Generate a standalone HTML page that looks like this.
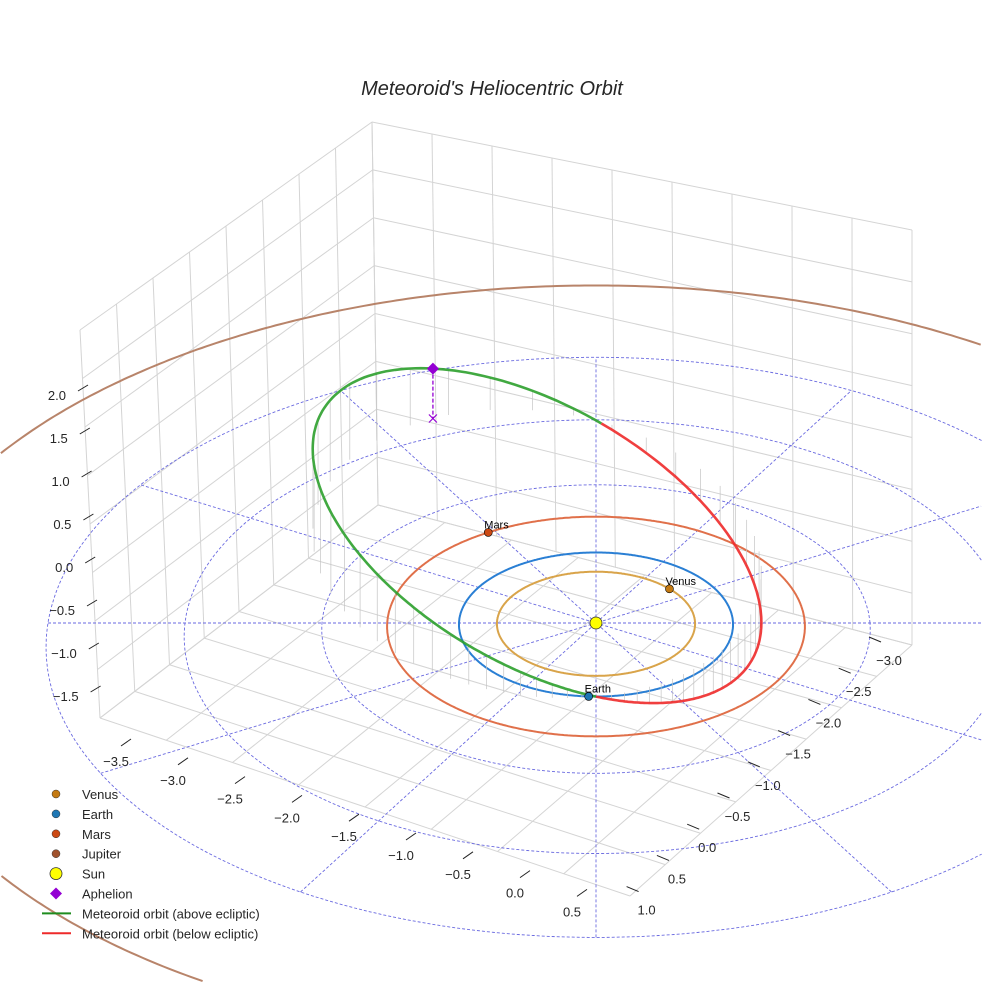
<!DOCTYPE html>
<html><head><meta charset="utf-8"><title>Meteoroid's Heliocentric Orbit</title>
<style>html,body{margin:0;padding:0;background:#fff;overflow:hidden;width:984px;height:984px}svg{display:block;overflow:hidden;font-family:"Liberation Sans",sans-serif}</style>
</head><body>
<svg id="chart" width="984" height="984" viewBox="0 0 984 984" xmlns="http://www.w3.org/2000/svg" overflow="hidden">
<rect width="984" height="984" fill="#fff"/>
<text x="492" y="95" text-anchor="middle" font-size="20" font-style="italic" fill="#262626">Meteoroid's Heliocentric Orbit</text>
<g id="grid"></g>
<g id="ecl"></g>
<g id="orbits"></g>
<g id="met"></g>
<g id="marks"></g>
<g id="ticks"></g>
<g id="legend"></g>
</svg>
<script>
const planetNames=["Venus","Earth","Mars","Jupiter"];
const planetRadii=[0.723,1.0,1.524,5.2];
const planetAngles=[41.5,-93,122,-150];
const planetColors=["#c47a12","#1f77b4","#cc4a14","#a0522d"];
const orbitColors=["#d9a44a","#2a7fd4","#e0704a","#b8846a"];
const ringRadii=[1,2,3,4];
const radialAngles=[0,30,60,90,120,150];
const metA=[2.15], metE=[0.55], metOmega=[-25], metInc=[26];
const zTicks=["2.0","1.5","1.0","0.5","0.0","\u22120.5","\u22121.0","\u22121.5"];
const xTicks=["\u22123.5","\u22123.0","\u22122.5","\u22122.0","\u22121.5","\u22121.0","\u22120.5","0.0","0.5"];
const yTicks=["\u22123.0","\u22122.5","\u22122.0","\u22121.5","\u22121.0","\u22120.5","0.0","0.5","1.0"];
const legendLabels=["Venus","Earth","Mars","Jupiter","Sun","Aphelion","Meteoroid orbit (above ecliptic)","Meteoroid orbit (below ecliptic)"];

const NS="http://www.w3.org/2000/svg";
const CX=596,CY=623,SX=137,SY=72,SZ=86,K=0.021;
function P(px,py,z){const f=1/(1+K*py);return [CX+SX*px*f, CY-(SY*py+SZ*z)*f];}
function polar(r,deg){const t=deg*Math.PI/180;return [r*Math.cos(t),r*Math.sin(t)];}
function mk(tag,attrs,parent){const e=document.createElementNS(NS,tag);for(const k in attrs)e.setAttribute(k,attrs[k]);parent.appendChild(e);return e;}
function pts(a){return a.map(p=>p[0].toFixed(1)+","+p[1].toFixed(1)).join(" ");}
function inside(p){return p[0]>=0&&p[0]<=983&&p[1]>=0&&p[1]<=983;}
// split a point list into runs that stay inside the frame
function splitIn(a){const out=[];let cur=[];a.forEach(p=>{if(inside(p))cur.push(p);else{if(cur.length>1)out.push(cur);cur=[];}});if(cur.length>1)out.push(cur);return out;}
const G=id=>document.getElementById(id);

// grid box
const grid=G('grid');
const TL=[80,330],TB=[372,122],TR=[912,230],FL=[100,718],FB=[378,505],FR=[912,645],FF=[630,896];
function lerp(a,b,t){return [a[0]+(b[0]-a[0])*t,a[1]+(b[1]-a[1])*t];}
function gl(a,b){const l=mk('line',{x1:a[0],y1:a[1],x2:b[0],y2:b[1],stroke:'#d4d4d4','stroke-width':1},grid);

}
for(let i=0;i<=8;i++){const t=i/8;gl(lerp(TL,TB,t),lerp(FL,FB,t));gl(lerp(TL,FL,t),lerp(TB,FB,t));}
for(let i=0;i<=9;i++){const t=i/9;gl(lerp(TB,TR,t),lerp(FB,FR,t));}
for(let i=0;i<=8;i++){const t=i/8;gl(lerp(TB,FB,t),lerp(TR,FR,t));}
for(let i=0;i<=8;i++){const t=i/8;gl(lerp(FL,FB,t),lerp(FF,FR,t));gl(lerp(FL,FF,t),lerp(FB,FR,t));}

// ecliptic rings & radials
const ecl=G('ecl');
ringRadii.forEach(r=>{const a=[];for(let i=0;i<=480;i++){const [x,y]=polar(r,i*0.75);a.push(P(x,y,0));}
splitIn(a).forEach(s=>{const e=mk('polyline',{points:pts(s),fill:'none',stroke:'#6a6ae0','stroke-width':0.9,'stroke-dasharray':'3,2'},ecl);

});});
radialAngles.forEach(d=>{const a=[];for(let i=-200;i<=200;i++){const [x,y]=polar(4*i/200,d);a.push(P(x,y,0));}
splitIn(a).forEach(s=>{const e=mk('polyline',{points:pts(s),fill:'none',stroke:'#6a6ae0','stroke-width':0.9,'stroke-dasharray':'3,2'},ecl);

});});

// planet orbits
const orb=G('orbits');
planetRadii.forEach((r,k)=>{const a=[];for(let i=0;i<=720;i++){const [x,y]=polar(r,i*0.5);a.push(P(x,y,0));}
splitIn(a).forEach(s=>{const e=mk('polyline',{points:pts(s),fill:'none',stroke:orbitColors[k],'stroke-width':2},orb);

});});

// meteoroid
const met=G('met');
const a0=metA[0],e0=metE[0],w=metOmega[0]*Math.PI/180,inc=metInc[0]*Math.PI/180,p0=a0*(1-e0*e0);
function metPt(u){const r=p0/(1+e0*Math.cos(u-w));const X=r*Math.cos(u),Y=r*Math.sin(u)*Math.cos(inc),Z=r*Math.sin(u)*Math.sin(inc);return [-Y,-X,Z];}
const N=400,mp=[];for(let i=0;i<=N;i++)mp.push(metPt(i/N*2*Math.PI));
mp.forEach((q,i)=>{if(i%7===0&&Math.abs(q[2])>0.03){const s=P(q[0],q[1],q[2]),b=P(q[0],q[1],0);
const l=mk('line',{x1:s[0],y1:s[1],x2:b[0],y2:b[1],stroke:'#c4c4c4','stroke-width':0.7},met);

}});
let seg=[],sign=null;
function flush(){if(seg.length>1){const e=mk('polyline',{points:pts(seg),fill:'none',stroke:sign?'#2ca02c':'#ee2a2a','stroke-width':2.6,'stroke-opacity':0.9},met);

}}
mp.forEach(q=>{const s=q[2]>=0;const sp=P(q[0],q[1],q[2]);if(sign===null)sign=s;if(s!==sign){seg.push(sp);flush();seg=[sp];sign=s;}else seg.push(sp);});
flush();

// markers
const mkG=G('marks');
const aph=metPt(w+Math.PI),aS=P(aph[0],aph[1],aph[2]),aB=P(aph[0],aph[1],0);
let e=mk('line',{x1:aS[0],y1:aS[1],x2:aB[0],y2:aB[1],stroke:'#9400d3','stroke-width':1.3,'stroke-dasharray':'4,2'},mkG);


e=mk('path',{d:`M${aB[0]-4},${aB[1]-4}L${aB[0]+4},${aB[1]+4}M${aB[0]+4},${aB[1]-4}L${aB[0]-4},${aB[1]+4}`,stroke:'#9400d3','stroke-width':1.2},mkG);


e=mk('path',{d:`M${aS[0]},${aS[1]-6}L${aS[0]+6},${aS[1]}L${aS[0]},${aS[1]+6}L${aS[0]-6},${aS[1]}Z`,fill:'#9400d3'},mkG);


planetNames.forEach((n,k)=>{const [x,y]=polar(planetRadii[k],planetAngles[k]);const s=P(x,y,0);
if(!inside(s))return;
const c=mk('circle',{cx:s[0],cy:s[1],r:4,fill:planetColors[k],stroke:'#000','stroke-width':0.6},mkG);


const t=mk('text',{x:s[0]-4,y:s[1]-4,'font-size':11,fill:'#000'},mkG);t.textContent=n;

});
const sun=P(0,0,0);
e=mk('circle',{cx:sun[0],cy:sun[1],r:6,fill:'#ffff00',stroke:'#333','stroke-width':0.8},mkG);



// ticks
const tk=G('ticks');
function tick(x,y,dx,dy,lab,tx,ty,anchor){const l=mk('line',{x1:x,y1:y,x2:x+dx,y2:y+dy,stroke:'#222','stroke-width':1},tk);


const t=mk('text',{x:tx,y:ty,'font-size':13,fill:'#262626','text-anchor':anchor},tk);t.textContent=lab;

}
zTicks.forEach((lab,i)=>{const y=391+i*43,x=78+i*1.8;tick(x,y,10,-6,lab,x-12,y+9,'end');});
xTicks.forEach((lab,i)=>{const x=116+i*57,y=766+i*18.8;tick(x+5,y-20,10,-7,lab,x,y,'middle');});
yTicks.forEach((lab,i)=>{const x=889-i*30.3,y=665+i*31.2;tick(x-20,y-28,12,5,lab,x,y,'middle');});

// legend
const lg=G('legend');
const lgMarkColors=["#c47a12","#1f77b4","#cc4a14","#a0522d"];
legendLabels.forEach((lab,i)=>{const y=795+i*19.9;let m;
if(i<4){m=mk('circle',{cx:56,cy:y-1,r:4,fill:lgMarkColors[i],stroke:'#333','stroke-width':0.5},lg);}
else if(i===4){m=mk('circle',{cx:56,cy:y-1,r:6,fill:'#ffff00',stroke:'#333','stroke-width':0.8},lg);}
else if(i===5){m=mk('path',{d:`M56,${y-7}L62,${y-1}L56,${y+5}L50,${y-1}Z`,fill:'#9400d3'},lg);}
else{m=mk('line',{x1:42,y1:y-1,x2:71,y2:y-1,stroke:i===6?'#1e8c1e':'#ee2a2a','stroke-width':2},lg);}


const t=mk('text',{x:82,y:y+4,'font-size':13,fill:'#262626'},lg);t.textContent=lab;

});
</script>
</body></html>
